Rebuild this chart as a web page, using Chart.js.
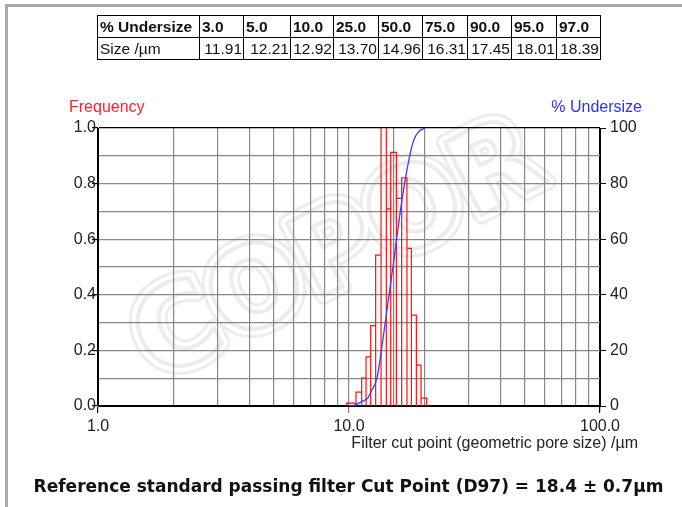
<!DOCTYPE html>
<html>
<head>
<meta charset="utf-8">
<style>
  body { margin: 0; background: #fff; font-family: "Liberation Sans", Arial, sans-serif; }
  #page { position: relative; width: 682px; height: 507px; overflow: hidden; }
  .frame { position: absolute; left: 5px; top: 4px; width: 700px; height: 600px;
           border-left: 3px solid #a9a9a9; border-top: 3px solid #a9a9a9; }
  canvas { position: absolute; left: 0; top: 0; }
  table.res { position: absolute; left: 97px; top: 15px; border-collapse: collapse; table-layout: fixed;
              width: 504px; font-size: 15.5px; color: #111; }
  table.res td { border: 1px solid #000; padding: 0 1px 0 2px; height: 21px; line-height: 21px;
                 white-space: nowrap; overflow: visible; }
  table.res tr.hd td { font-weight: bold; }
  table.res tr.sz td.v { text-align: right; }
  .lbl { position: absolute; font-size: 16px; white-space: nowrap; }
  #foot { position: absolute; left: 0; width: 697px; top: 476px; text-align: center;
          font-family: "DejaVu Sans", sans-serif; font-weight: bold; font-size: 17px; color: #111; }
</style>
</head>
<body>
<div id="page">
  <div class="frame"></div>
  <canvas id="chart" width="682" height="507"></canvas>
  <table class="res" id="tbl"></table>
  <div class="lbl" style="left:69px; top:98px; color:#ff2030;">Frequency</div>
  <div class="lbl" style="right:40px; top:98px; color:#3030ff;">% Undersize</div>
  <div class="lbl" style="right:44px; top:434px; color:#222;">Filter cut point (geometric pore size) /µm</div>
  <div id="foot">Reference standard passing filter Cut Point (D97) = 18.4 ± 0.7µm</div>
</div>

<script src="https://cdn.jsdelivr.net/npm/chart.js@4.4.1/dist/chart.umd.min.js"></script>
<script>
// table values: % undersize and the matching size
var undersizePct = [3.0, 5.0, 10.0, 25.0, 50.0, 75.0, 90.0, 95.0, 97.0];
var sizeUm = [11.91, 12.21, 12.92, 13.70, 14.96, 16.31, 17.45, 18.01, 18.39];

// cumulative curve (% undersize vs size)
var curveSize = [10.0, 10.6, 11.2, 11.91, 12.21, 12.92, 13.70, 14.96, 16.31, 17.45, 18.01, 18.39, 19.0, 19.6, 20.1];
var curvePct  = [0, 0.4, 1.5, 3, 5, 10, 25, 50, 75, 90, 95, 97, 98.8, 99.6, 100];

// histogram bins (edges in µm) and frequency of each bin
var binEdges = [9.79, 10.66, 11.23, 11.69, 12.20, 12.77, 13.42, 14.08, 14.66, 15.44, 16.21, 17.02, 17.72, 18.55, 19.36, 20.39];
var binFreq  = [0.01, 0.05, 0.10, 0.177, 0.289, 0.543, 1.10, 0.709, 0.912, 0.747, 0.821, 0.567, 0.327, 0.147, 0.028];

// build the table
var colW = [102, 44, 47, 43, 45, 44, 45, 44, 45, 44];
var tbl = document.getElementById('tbl');
var html = '<colgroup>';
colW.forEach(function (w) { html += '<col style="width:' + w + 'px">'; });
html += '</colgroup>';
var r1 = '<tr class="hd"><td>% Undersize</td>';
var r2 = '<tr class="sz"><td>Size /µm</td>';
for (var i = 0; i < undersizePct.length; i++) {
  r1 += '<td>' + undersizePct[i].toFixed(1) + '</td>';
  r2 += '<td class="v">' + sizeUm[i].toFixed(2) + '</td>';
}
tbl.innerHTML = html + r1 + '</tr>' + r2 + '</tr>';

// histogram outline: every bar goes down to the baseline
var histPts = [{x: binEdges[0], y: 0}];
for (var j = 0; j < binFreq.length; j++) {
  histPts.push({x: binEdges[j], y: binFreq[j]});
  histPts.push({x: binEdges[j + 1], y: binFreq[j]});
  histPts.push({x: binEdges[j + 1], y: 0});
}
var curvePts = curveSize.map(function (s, k) { return {x: s, y: curvePct[k]}; });

var watermark = {
  id: 'watermark',
  beforeDraw: function (chart) {
    var ctx = chart.ctx;
    ctx.save();
    ctx.translate(340, 255);
    ctx.rotate(-27 * Math.PI / 180);
    ctx.font = 'bold 112px "DejaVu Sans"';
    ctx.textAlign = 'center';
    ctx.textBaseline = 'middle';
    ctx.lineJoin = 'round';
    ctx.strokeStyle = '#ececec'; ctx.lineWidth = 18; ctx.strokeText('COPOR', 0, 0);
    ctx.strokeStyle = '#ffffff'; ctx.lineWidth = 12; ctx.strokeText('COPOR', 0, 0);
    ctx.fillStyle = '#ffffff'; ctx.fillText('COPOR', 0, 0);
    ctx.strokeStyle = '#ececec'; ctx.lineWidth = 4; ctx.strokeText('COPOR', 0, 0);
    ctx.restore();
  }
};

Chart.defaults.font.family = '"Liberation Sans", Arial, sans-serif';
Chart.defaults.font.size = 16;
Chart.defaults.color = '#222';

new Chart(document.getElementById('chart'), {
  type: 'scatter',
  data: {
    datasets: [{
      label: '% Undersize',
      data: curvePts,
      yAxisID: 'y2',
      showLine: true,
      borderColor: '#3a3aff',
      borderWidth: 1.3,
      pointRadius: 0,
      cubicInterpolationMode: 'monotone'
    }, {
      label: 'Frequency',
      data: histPts,
      yAxisID: 'y',
      showLine: true,
      borderColor: '#ff1010',
      borderWidth: 1.2,
      pointRadius: 0,
      tension: 0
    }]
  },
  options: {
    responsive: false,
    animation: false,
    devicePixelRatio: 1,
    layout: { padding: { left: 0, right: 0, top: 128, bottom: 71 } },
    plugins: { legend: { display: false }, tooltip: { enabled: false } },
    scales: {
      x: {
        type: 'logarithmic',
        min: 1, max: 100,
        afterFit: function (s) { s.height = 30; },
        border: { display: true, color: '#000', width: 1 },
        grid: {
          color: function (c) { var v = c.tick && c.tick.value; return (v === 1 || v === 100) ? '#000' : '#888'; },
          lineWidth: 1.2,
          tickLength: 7,
          tickColor: function (c) {
            var v = c.tick && c.tick.value;
            if (v === 1 || v === 100) return '#000';
            if (v === 10) return '#777';
            return 'rgba(0,0,0,0)';
          }
        },
        ticks: {
          autoSkip: false, maxRotation: 0, padding: 4,
          callback: function (v) { return (v === 1 || v === 10 || v === 100) ? v.toFixed(1) : ''; }
        }
      },
      y: {
        position: 'left',
        min: 0, max: 1,
        afterFit: function (s) { s.width = 98; },
        border: { display: true, color: '#000', width: 1 },
        grid: {
          color: function (c) { var v = c.tick && c.tick.value; return (v === 0 || Math.abs(v - 1) < 1e-9) ? '#000' : '#888'; },
          lineWidth: 1.2,
          tickLength: 6,
          tickColor: function (c) { var t = Math.round(c.tick.value * 10); return t % 2 === 0 ? '#000' : 'rgba(0,0,0,0)'; }
        },
        ticks: {
          stepSize: 0.1, padding: -4,
          callback: function (v) { var t = Math.round(v * 10); return t % 2 === 0 ? (t / 10).toFixed(1) : ''; }
        }
      },
      y2: {
        position: 'right',
        min: 0, max: 100,
        afterFit: function (s) { s.width = 82; },
        border: { display: true, color: '#000', width: 1 },
        grid: { drawOnChartArea: false, tickLength: 6, tickColor: '#000' },
        ticks: { stepSize: 20, padding: 4 }
      }
    }
  },
  plugins: [watermark]
});
</script>
</body>
</html>
